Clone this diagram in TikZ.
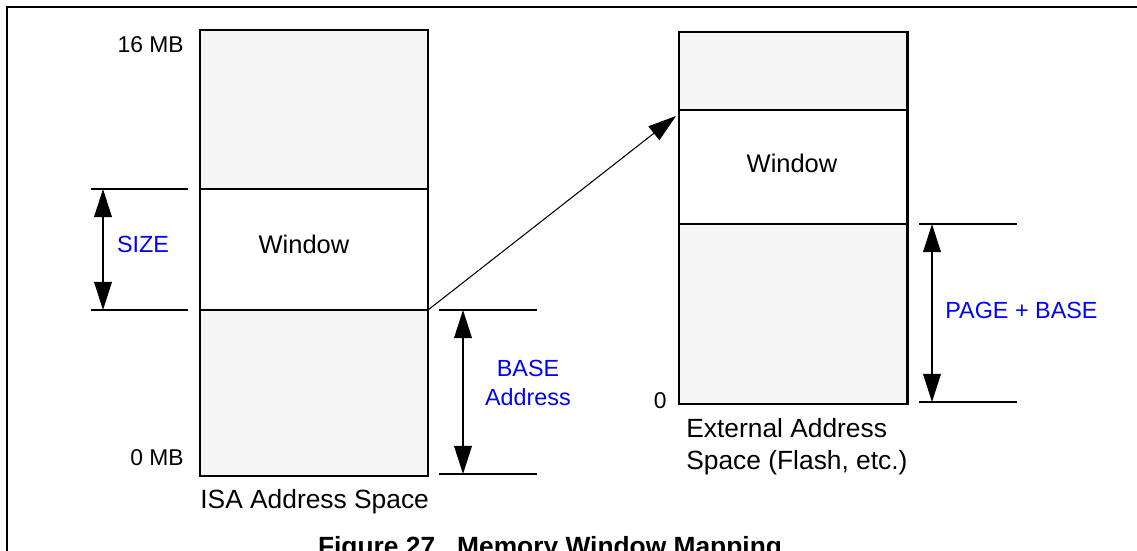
\documentclass[tikz,border=0pt]{standalone}
\usepackage{fontspec}
\setmainfont{Liberation Sans}
\usetikzlibrary{arrows.meta}
\definecolor{segfill}{RGB}{245,245,245}
\definecolor{dimblue}{RGB}{0,0,255}
\tikzset{
  seg/.style={draw, line width=1.7pt, fill=segfill},
  win/.style={draw, line width=1.7pt, fill=white},
  lbl/.style={font=\fontsize{13}{15.5}\selectfont, inner sep=0pt},
  winlbl/.style={lbl, font=\fontsize{14.5}{17}\selectfont},
  spacelbl/.style={lbl, font=\fontsize{15}{18}\selectfont, anchor=north west, align=left},
  dimlbl/.style={lbl, text=dimblue, font=\fontsize{13.3}{16}\selectfont},
  dimline/.style={line width=1.1pt},
  dimarrow/.style={line width=1.1pt, {Triangle[length=16pt,width=10pt]}-{Triangle[length=16pt,width=10pt]}},
}
\begin{document}
\begin{tikzpicture}[x=0.02cm, y=-0.02cm]
      \useasboundingbox (0,0) rectangle (1137,551);
      \draw[line width=1.7pt] (7,600) -- (7,7) -- (1180,7);
      \draw[seg] (200,30) rectangle (428,189);
      \draw[win] (200,189) rectangle (428,310);
      \draw[seg] (200,310) rectangle (428,476);
      \draw[seg] (679,32) rectangle (907,110);
      \draw[win] (679,110) rectangle (907,224);
      \draw[seg] (679,224) rectangle (907,404);
      \draw
        (184,45) node[lbl, anchor=east] (mb16){16 MB}
        (184,458) node[lbl, anchor=east] (mb0){0 MB}
        (304,244) node[winlbl] (isawin){Window}
        (200,489) node[spacelbl] (isa){ISA Address Space}
        (792,163) node[winlbl] (extwin){Window}
        (667,401) node[lbl, anchor=east] (zero){0}
        (686,418) node[spacelbl] (ext){External Address\\Space (Flash, etc.)}
        (143,244) node[dimlbl] (size){SIZE}
        (528,383) node[dimlbl, align=center] (base){BASE\\Address}
        (945,310) node[dimlbl, anchor=west] (pagebase){PAGE + BASE}
        (550,555) node[lbl, font=\fontsize{15}{18}\bfseries, anchor=base] (caption){Figure 27.\ \ Memory Window Mapping};
      \coordinate (sizetop) at (103,189);
      \coordinate (sizebot) at (103,310);
      \coordinate (basetop) at (463,310);
      \coordinate (basebot) at (463,474);
      \coordinate (pbtop) at (932,224);
      \coordinate (pbbot) at (932,402);
      \coordinate (isaedge) at (428,310);
      \coordinate (extedge) at (676,116);
      \begin{scope}[dimline]
        \draw (91,189) to (188,189);
        \draw (91,310) to (188,310);
        \draw (439,310) to (537,310);
        \draw (439,474) to (537,474);
        \draw (919,224) to (1017,224);
        \draw (919,402) to (1017,402);
      \end{scope}
      \begin{scope}[dimarrow]
        \draw (sizetop) to (sizebot);
        \draw (basetop) to (basebot);
        \draw (pbtop) to (pbbot);
      \end{scope}
      \draw[line width=0.6pt, -{Triangle[length=16pt,width=10pt]}] (isaedge) to (extedge);
    \end{tikzpicture}
\end{document}
